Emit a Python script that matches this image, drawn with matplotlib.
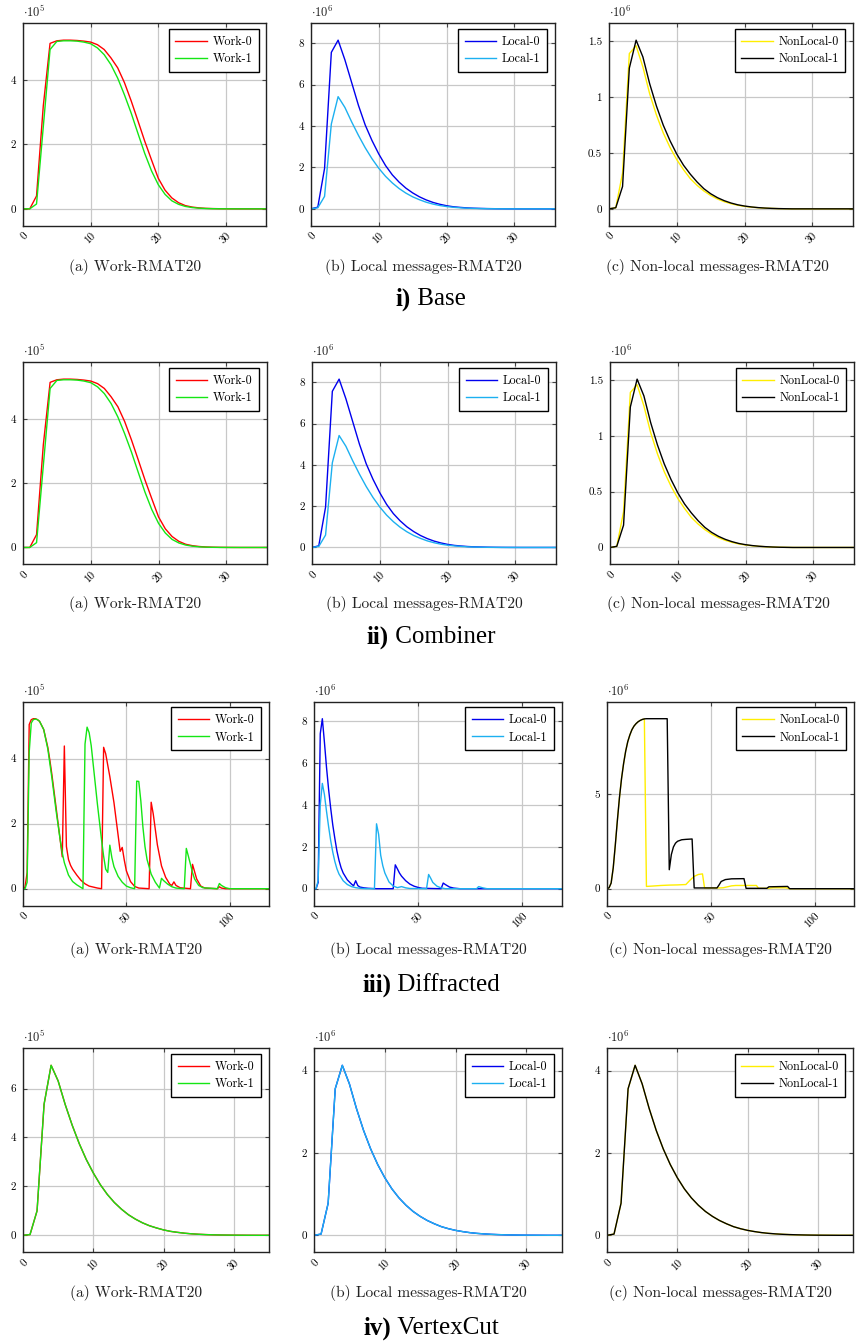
import matplotlib
matplotlib.use("Agg")
import matplotlib.pyplot as plt

plt.rcParams["mathtext.fontset"] = "cm"
plt.rcParams["axes.unicode_minus"] = False

W, H = 857, 1343

# ---------------- data (in units of the axis multiplier) ----------------
# i) Base, supersteps 0..36
base_steps = list(range(37))
base_work0 = [0, 0, 0.40, 3.2, 5.14, 5.22, 5.24, 5.24, 5.23, 5.21, 5.18, 5.10, 4.95, 4.69,
              4.38, 3.92, 3.35, 2.73, 2.10, 1.52, 0.95, 0.58, 0.34, 0.19, 0.10, 0.055, 0.03,
              0.015, 0.008, 0.004, 0.002, 0.001, 0, 0, 0, 0, 0]
base_work1 = [0, 0, 0.15, 2.55, 4.95, 5.20, 5.22, 5.22, 5.21, 5.18, 5.13, 5.00, 4.79, 4.48,
              4.06, 3.54, 2.97, 2.34, 1.72, 1.18, 0.75, 0.45, 0.25, 0.14, 0.075, 0.04, 0.02,
              0.01, 0.005, 0.002, 0.001, 0, 0, 0, 0, 0, 0]
base_local0 = [0, 0.08, 1.95, 7.56, 8.15, 7.2, 6.1, 5.0, 4.05, 3.3, 2.65, 2.09, 1.64, 1.29,
               1.0, 0.77, 0.58, 0.43, 0.31, 0.22, 0.15, 0.10, 0.07, 0.045, 0.03, 0.02, 0.012,
               0.007, 0.004, 0.002, 0.001, 0, 0, 0, 0, 0, 0]
base_local1 = [0, 0.05, 0.6, 4.1, 5.42, 4.9, 4.2, 3.55, 2.95, 2.42, 1.96, 1.57, 1.25, 0.98,
               0.76, 0.58, 0.44, 0.32, 0.23, 0.16, 0.11, 0.075, 0.05, 0.03, 0.02, 0.012,
               0.007, 0.004, 0.002, 0.001, 0, 0, 0, 0, 0, 0, 0]
base_nonlocal0 = [0, 0.01, 0.32, 1.39, 1.46, 1.27, 1.03, 0.84, 0.68, 0.55, 0.44, 0.35, 0.27,
                  0.21, 0.16, 0.12, 0.088, 0.064, 0.046, 0.032, 0.022, 0.015, 0.01, 0.006,
                  0.004, 0.002, 0.001, 0, 0, 0, 0, 0, 0, 0, 0, 0, 0]
base_nonlocal1 = [0, 0.01, 0.2, 1.26, 1.51, 1.36, 1.12, 0.92, 0.75, 0.61, 0.49, 0.39, 0.31,
                  0.24, 0.18, 0.135, 0.10, 0.073, 0.052, 0.036, 0.025, 0.017, 0.011, 0.007,
                  0.004, 0.002, 0.001, 0, 0, 0, 0, 0, 0, 0, 0, 0, 0]

# ii) Combiner: reads the same as the base run
comb_steps = base_steps
comb_work0 = base_work0
comb_work1 = base_work1
comb_local0 = base_local0
comb_local1 = base_local1
comb_nonlocal0 = base_nonlocal0
comb_nonlocal1 = base_nonlocal1

# iii) Diffracted, supersteps 0..119 (points read off the curves)
diff_work0_x = [0, 1, 2, 3, 4, 5, 6, 7, 8, 10, 12, 13, 14, 15, 16, 17, 18, 19, 20, 21, 22, 23,
                24, 26, 28, 30, 32, 34, 36, 38, 39, 40, 42, 44, 46, 47, 48, 49, 50, 52, 54, 56,
                61, 62, 63, 65, 67, 69, 71, 72, 73, 74, 76, 81, 82, 84, 86, 88, 94, 95, 96, 98, 119]
diff_work0_y = [0, 0.05, 0.5, 5.05, 5.2, 5.23, 5.23, 5.2, 5.15, 4.9, 4.35, 3.95, 3.5, 3.0, 2.5,
                2.0, 1.5, 0.98, 4.39, 1.3, 0.9, 0.72, 0.6, 0.42, 0.26, 0.15, 0.08, 0.05, 0.02, 0,
                4.35, 4.15, 3.45, 2.65, 1.65, 1.15, 1.27, 0.88, 0.55, 0.22, 0.07, 0.02, 0, 2.66,
                2.3, 1.35, 0.7, 0.35, 0.14, 0.1, 0.21, 0.1, 0.03, 0, 0.75, 0.3, 0.08, 0.02, 0,
                0.06, 0.02, 0, 0]
diff_work1_x = [0, 1, 2, 3, 4, 5, 6, 7, 8, 10, 12, 14, 16, 18, 19, 20, 22, 24, 26, 28, 29, 30,
                31, 32, 33, 34, 35, 36, 37, 38, 39, 40, 41, 42, 43, 44, 46, 48, 50, 52, 54, 55,
                56, 57, 58, 59, 60, 62, 64, 66, 67, 68, 70, 72, 74, 78, 79, 80, 81, 82, 83, 85,
                87, 94, 95, 96, 98, 100, 119]
diff_work1_y = [0, 0, 0.2, 4.2, 5.1, 5.2, 5.22, 5.2, 5.15, 4.9, 4.3, 3.4, 2.4, 1.5, 1.1, 0.8,
                0.42, 0.22, 0.12, 0.04, 0, 4.45, 4.97, 4.8, 4.4, 3.8, 3.2, 2.6, 2.05, 1.5, 1.0,
                0.6, 0.5, 1.34, 0.95, 0.68, 0.38, 0.2, 0.08, 0.03, 0, 3.31, 3.3, 2.7, 1.9, 1.3,
                0.9, 0.45, 0.2, 0.02, 0.32, 0.25, 0.14, 0.06, 0.02, 0, 1.24, 1.0, 0.75, 0.5,
                0.3, 0.1, 0.03, 0, 0.16, 0.1, 0.03, 0, 0]
diff_local0_x = [0, 1, 2, 3, 4, 5, 6, 7, 8, 9, 10, 11, 12, 13, 14, 16, 18, 19, 20, 21, 22, 24,
                 26, 30, 38, 39, 40, 41, 42, 44, 46, 48, 50, 52, 61, 62, 63, 65, 67, 70, 119]
diff_local0_y = [0, 0, 0.3, 7.4, 8.12, 7.0, 5.8, 4.75, 3.85, 3.05, 2.4, 1.8, 1.35, 1.0, 0.75,
                 0.42, 0.22, 0.14, 0.38, 0.15, 0.08, 0.04, 0.02, 0, 0, 1.14, 0.95, 0.75, 0.6,
                 0.38, 0.22, 0.12, 0.06, 0.02, 0, 0.27, 0.2, 0.08, 0.03, 0, 0]
diff_local1_x = [0, 1, 2, 3, 4, 5, 6, 7, 8, 9, 10, 11, 12, 14, 16, 18, 20, 22, 25, 29, 30, 31,
                 32, 33, 34, 36, 38, 40, 42, 44, 46, 54, 55, 56, 57, 59, 61, 63, 78, 79, 81, 83, 119]
diff_local1_y = [0, 0, 0.4, 4.0, 5.03, 4.5, 3.7, 2.97, 2.3, 1.75, 1.3, 0.95, 0.7, 0.38, 0.2,
                 0.1, 0.05, 0.02, 0, 0, 3.1, 2.6, 1.6, 1.1, 0.75, 0.32, 0.13, 0.05, 0.1, 0.04,
                 0.01, 0, 0.68, 0.5, 0.3, 0.12, 0.04, 0, 0, 0.1, 0.04, 0, 0]
diff_nonlocal0_x = [0, 1, 2, 3, 4, 5, 6, 7, 8, 9, 10, 11, 12, 13, 14, 15, 16, 17, 18, 19, 22,
                    26, 30, 34, 38, 40, 42, 44, 46, 47, 50, 54, 56, 58, 60, 62, 72, 73, 78, 80,
                    86, 88, 119]
diff_nonlocal0_y = [0, 0.05, 0.3, 1.1, 2.3, 3.6, 4.8, 5.8, 6.6, 7.25, 7.75, 8.1, 8.38, 8.57,
                    8.7, 8.8, 8.87, 8.92, 8.94, 0.12, 0.14, 0.17, 0.19, 0.2, 0.22, 0.45, 0.65,
                    0.75, 0.78, 0.04, 0.04, 0.04, 0.05, 0.1, 0.15, 0.17, 0.17, 0.02, 0.02, 0.05,
                    0.05, 0, 0]
diff_nonlocal1_x = [0, 1, 2, 3, 4, 5, 6, 7, 8, 9, 10, 11, 12, 13, 14, 15, 16, 17, 18, 19, 29,
                    30, 31, 32, 33, 34, 36, 38, 41, 42, 50, 53, 54, 55, 57, 60, 66, 67, 77, 78,
                    87, 88, 119]
diff_nonlocal1_y = [0, 0.05, 0.3, 1.1, 2.3, 3.6, 4.8, 5.8, 6.6, 7.25, 7.75, 8.1, 8.38, 8.57,
                    8.7, 8.8, 8.87, 8.92, 8.95, 8.96, 8.96, 1.0, 1.8, 2.2, 2.4, 2.5, 2.58, 2.6,
                    2.62, 0.04, 0.04, 0.04, 0.2, 0.38, 0.48, 0.52, 0.53, 0.02, 0.02, 0.1, 0.12,
                    0, 0]

# iv) VertexCut, supersteps 0..35 (both workers coincide)
vc_steps = list(range(36))
vc_work = [0, 0.03, 1.0, 5.36, 6.95, 6.31, 5.35, 4.5, 3.75, 3.1, 2.55, 2.07, 1.67, 1.34, 1.07,
           0.84, 0.66, 0.51, 0.39, 0.3, 0.22, 0.16, 0.12, 0.085, 0.06, 0.042, 0.029, 0.02,
           0.013, 0.009, 0.006, 0.004, 0.002, 0.001, 0, 0]
vc_local = [0, 0.03, 0.78, 3.56, 4.13, 3.68, 3.08, 2.55, 2.1, 1.72, 1.4, 1.13, 0.91, 0.73,
            0.58, 0.46, 0.36, 0.28, 0.21, 0.16, 0.12, 0.09, 0.065, 0.047, 0.034, 0.024, 0.017,
            0.012, 0.008, 0.005, 0.003, 0.002, 0.001, 0, 0, 0]
vc_nonlocal = vc_local

# ---------------- styling ----------------
kinds = {
    "work": (["Work-0", "Work-1"], ["#ff0000", "#14e614"], "(a) Work-RMAT20"),
    "local": (["Local-0", "Local-1"], ["#0000ee", "#1cb0f0"], "(b) Local messages-RMAT20"),
    "nonlocal": (["NonLocal-0", "NonLocal-1"], ["#ffee00", "#000000"],
                 "(c) Non-local messages-RMAT20"),
}

fig = plt.figure(figsize=(W / 100, H / 100), dpi=100)


def panel(box, kind, series, exp, yticks, xticks, cap_x, cap_y):
    x0, x1, y0, y1 = box
    ax = fig.add_axes([x0 / W, 1 - y1 / H, (x1 - x0) / W, (y1 - y0) / H])
    labels, colors, caption = kinds[kind]
    for (xs, ys), lab, col in zip(series, labels, colors):
        ax.plot(xs, ys, color=col, lw=1.0, label=lab)
    ax.set_xlim(series[0][0][0], series[0][0][-1])
    ax.margins(x=0, y=0.1)
    ax.set_xticks(xticks)
    ax.set_yticks(yticks)
    ax.set_yticklabels(["%g" % v for v in yticks], family="cmr10", fontsize=8)
    ax.set_xticklabels(["%g" % v for v in xticks], family="cmr10", fontsize=8,
                       rotation=45, ha="right", va="top", rotation_mode="anchor")
    ax.tick_params(direction="in", length=3, width=0.8, color="#444444",
                   top=True, right=True, pad=5)
    ax.tick_params(axis="x", pad=4)
    ax.grid(True, color="#c8c8c8", lw=0.9)
    ax.set_axisbelow(True)
    for s in ax.spines.values():
        s.set_linewidth(1.0)
        s.set_color("#222222")
    ax.text(0.0, 1.0 + 3 / (y1 - y0), r"$\cdot 10^{%d}$" % exp, transform=ax.transAxes,
            ha="left", va="bottom", fontsize=9, color="#222222")
    leg = ax.legend(loc="upper right",
                    bbox_to_anchor=(1 - 7.8 / (x1 - x0), 1 - 5.7 / (y1 - y0)),
                    borderaxespad=0, fancybox=False, framealpha=1, edgecolor="black",
                    prop={"family": "cmr10", "size": 8.7}, handlelength=2.6,
                    handletextpad=0.45, borderpad=0.55, labelspacing=0.45)
    leg.get_frame().set_linewidth(1.0)
    fig.text(cap_x / W, 1 - cap_y / H, caption, family="cmr10", fontsize=11.2,
             ha="center", va="center", color="#222222")
    return ax


def section_title(cx, cy, tag, name):
    t1 = fig.text(0, 1 - cy / H, tag, family="Liberation Serif", fontweight="bold",
                  fontsize=18, va="center", ha="left")
    t2 = fig.text(0, 1 - cy / H, "\u00a0" + name, family="Liberation Serif",
                  fontsize=18, va="center", ha="left")
    r = fig.canvas.get_renderer()
    w1 = t1.get_window_extent(r).width
    w2 = t2.get_window_extent(r).width
    start = cx - (w1 + w2) / 2
    t1.set_x(start / W)
    t2.set_x((start + w1) / W)


rows = [
    ("i)", "Base", (23.3, 225.7), [(23, 266.5), (311, 555), (609, 853)],
     [135, 423, 717], 266.7, 299,
     [[(base_steps, base_work0), (base_steps, base_work1)],
      [(base_steps, base_local0), (base_steps, base_local1)],
      [(base_steps, base_nonlocal0), (base_steps, base_nonlocal1)]],
     [[0, 2, 4], [0, 2, 4, 6, 8], [0, 0.5, 1, 1.5]], [0, 10, 20, 30]),
    ("ii)", "Combiner", (362.3, 564.3), [(23, 267), (312, 556), (610, 854)],
     [135, 424, 718], 604, 637,
     [[(comb_steps, comb_work0), (comb_steps, comb_work1)],
      [(comb_steps, comb_local0), (comb_steps, comb_local1)],
      [(comb_steps, comb_nonlocal0), (comb_steps, comb_nonlocal1)]],
     [[0, 2, 4], [0, 2, 4, 6, 8], [0, 0.5, 1, 1.5]], [0, 10, 20, 30]),
    ("iii)", "Diffracted", (701.7, 905.7), [(23, 269), (314, 562), (607, 854)],
     [136, 428, 720], 950, 985,
     [[(diff_work0_x, diff_work0_y), (diff_work1_x, diff_work1_y)],
      [(diff_local0_x, diff_local0_y), (diff_local1_x, diff_local1_y)],
      [(diff_nonlocal0_x, diff_nonlocal0_y), (diff_nonlocal1_x, diff_nonlocal1_y)]],
     [[0, 2, 4], [0, 2, 4, 6, 8], [0, 5]], [0, 50, 100]),
    ("iv)", "VertexCut", (1048.3, 1252.3), [(23, 269), (314, 561.7), (607, 853)],
     [136, 428, 720], 1293, 1328,
     [[(vc_steps, vc_work), (vc_steps, vc_work)],
      [(vc_steps, vc_local), (vc_steps, vc_local)],
      [(vc_steps, vc_nonlocal), (vc_steps, vc_nonlocal)]],
     [[0, 2, 4, 6], [0, 2, 4], [0, 2, 4]], [0, 10, 20, 30]),
]
exps = [5, 6, 6]

for tag, name, (top, bot), cols, capx, capy, ty, data, yts, xts in rows:
    for i, kind in enumerate(["work", "local", "nonlocal"]):
        panel((cols[i][0], cols[i][1], top, bot), kind, data[i], exps[i], yts[i], xts,
              capx[i], capy)
    section_title(431, ty, tag, name)

fig.savefig("out.png", dpi=100)
